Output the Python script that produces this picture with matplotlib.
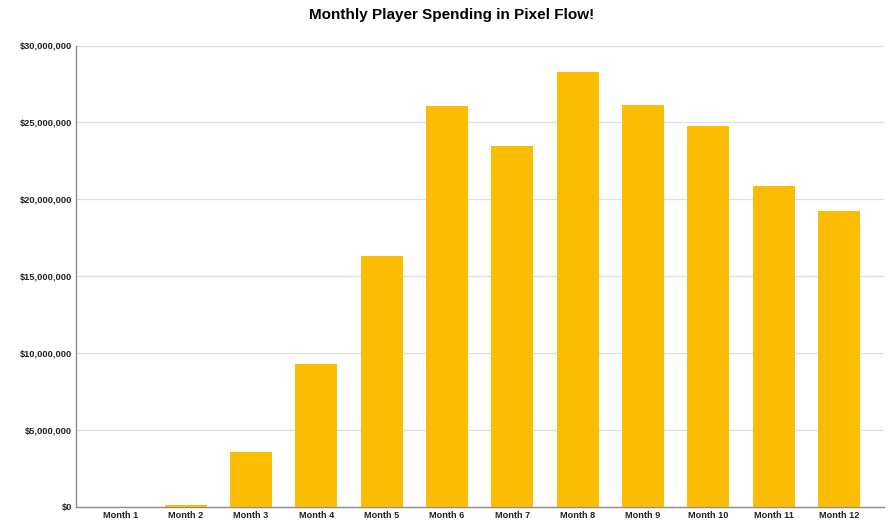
import matplotlib
matplotlib.use("Agg")
import matplotlib.pyplot as plt
from matplotlib.ticker import FuncFormatter

plt.rcParams['font.family'] = ['Liberation Sans', 'DejaVu Sans']

months = ["Month 1", "Month 2", "Month 3", "Month 4", "Month 5", "Month 6",
          "Month 7", "Month 8", "Month 9", "Month 10", "Month 11", "Month 12"]
spending = [0, 130000, 3550000, 9250000, 16300000, 26050000,
            23450000, 28300000, 26150000, 24750000, 20850000, 19250000]
yticks = [0, 5000000, 10000000, 15000000, 20000000, 25000000, 30000000]

W, H = 890, 527
fig = plt.figure(figsize=(W / 100, H / 100), dpi=100)
left, right, top, bottom = 76, 884, 45.5, 506.5
ax = fig.add_axes([left / W, 1 - bottom / H, (right - left) / W, (bottom - top) / H])
ax.bar(range(len(months)), spending, width=0.645, color="#FBBC04", zorder=3)
ax.set_xlim(-0.678, 11.69)
ax.set_ylim(0, 30000000)
ax.set_yticks(yticks)
ax.yaxis.set_major_formatter(FuncFormatter(lambda v, p: f"${v:,.0f}"))
ax.set_xticks(range(len(months)))
ax.set_xticklabels(months, fontsize=6.6, fontweight="bold", color="#222222")
ax.tick_params(axis="y", length=0, pad=2.8, labelsize=6.7, labelcolor="#222222")
ax.tick_params(axis="x", length=0, pad=3)
for lab in ax.get_yticklabels():
    lab.set_fontweight("bold")
ax.grid(axis="y", color="#E0E0E0", linewidth=0.9, zorder=0)
ax.set_axisbelow(True)
for s in ("top", "right"):
    ax.spines[s].set_visible(False)
for s in ("left", "bottom"):
    ax.spines[s].set_color("#8C8C8C")
    ax.spines[s].set_linewidth(1.0)
fig.text(452 / W, 1 - 15 / H, "Monthly Player Spending in Pixel Flow!", ha="center", va="center",
         fontsize=11, fontweight="bold", color="black")
fig.savefig("out.png", dpi=100, facecolor="white")
